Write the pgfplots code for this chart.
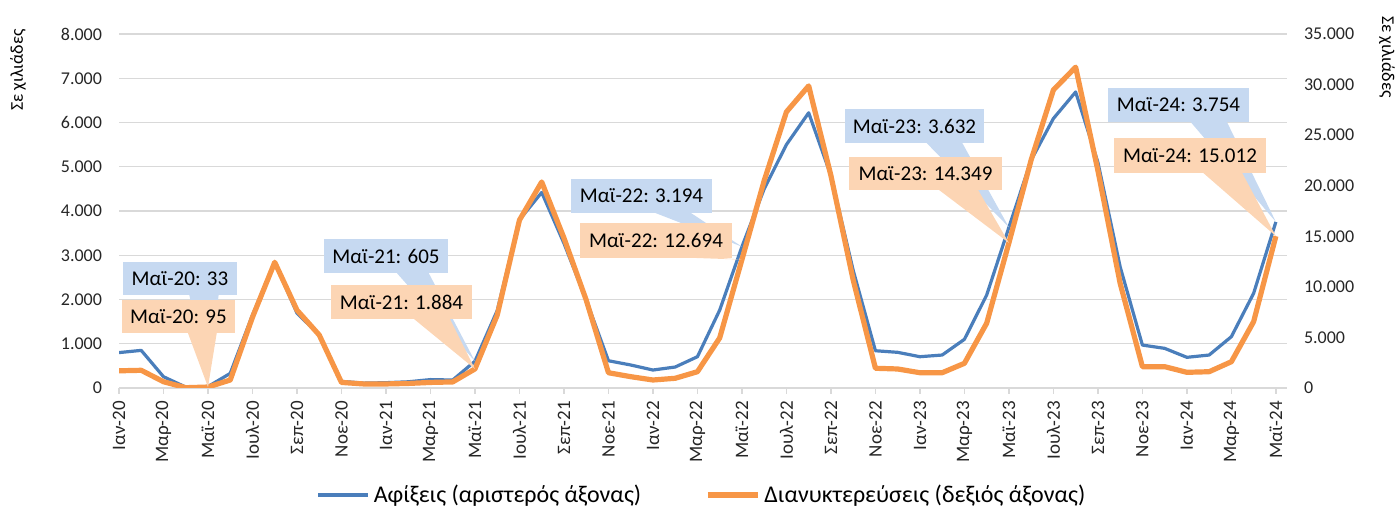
\documentclass[border=0pt]{standalone}
\usepackage{pgfplots}
\usepackage{pgfplotstable}
\pgfplotsset{compat=1.18}
\usepackage{fontspec}
\setmainfont{Carlito}
\definecolor{bl}{HTML}{4A7EBB}
\definecolor{orl}{HTML}{F79646}
\definecolor{blf}{HTML}{C6D9F1}
\definecolor{orf}{HTML}{FCD5B4}
\definecolor{gridc}{HTML}{D9D9D9}

\pgfplotstableread{
x arr ovn
0 800 1700
1 850 1750
2 255 620
3 20 30
4 33 95
5 330 790
6 1650 7000
7 2840 12430
8 1690 7700
9 1200 5240
10 150 550
11 110 400
12 120 400
13 140 450
14 190 550
15 180 600
16 605 1884
17 1750 7200
18 3800 16600
19 4420 20370
20 3270 14830
21 1990 8700
22 616 1510
23 520 1120
24 406 790
25 474 960
26 707 1610
27 1760 4950
28 3194 12694
29 4500 20500
30 5500 27300
31 6220 29870
32 4800 21000
33 2660 10680
34 842 1950
35 806 1880
36 707 1510
37 745 1510
38 1100 2440
39 2100 6400
40 3632 14349
41 5150 22550
42 6090 29470
43 6690 31720
44 5100 21500
45 2740 10350
46 970 2110
47 896 2110
48 693 1550
49 745 1610
50 1160 2600
51 2140 6560
52 3754 15012
}\datatable

\newcommand{\callout}[7]{%
  \fill[#5] ({#1+0.58*(#3-#1)},{#4-1}) -- ({#1+0.84*(#3-#1)},{#4-1}) -- (#6) -- cycle;
  \fill[#5] (#1,#2) rectangle (#3,#4);
  \node[font=\fontsize{10.5}{12}\selectfont, inner sep=0pt, text=black] at ({(#1+#3)/2},{(#2+#4)/2}) {#7};
}

\begin{document}
\begin{tikzpicture}
\useasboundingbox (-59.5pt,-60pt) rectangle (640pt,194pt);
\begin{axis}[name=ax,
  scale only axis, width=584pt, height=177pt,
  at={(0,0)}, anchor=south west,
  xmin=0, xmax=52.5, ymin=0, ymax=8000,
  axis x line*=bottom, axis y line*=left,
  x axis line style={-, draw=gridc, line width=0.8pt},
  y axis line style={draw=none},
  ytick={0,1000,...,8000},
  ymajorgrids, grid style={gridc, line width=0.7pt},
  ytick style={draw=none},
  xtick={0,2,...,52},
  xtick align=outside, major tick length=3pt,
  xtick style={gridc, line width=0.8pt},
  xticklabels={Ιαν-20, Μαρ-20, Μαϊ-20, Ιουλ-20, Σεπ-20, Νοε-20, Ιαν-21, Μαρ-21, Μαϊ-21, Ιουλ-21, Σεπ-21, Νοε-21, Ιαν-22, Μαρ-22, Μαϊ-22, Ιουλ-22, Σεπ-22, Νοε-22, Ιαν-23, Μαρ-23, Μαϊ-23, Ιουλ-23, Σεπ-23, Νοε-23, Ιαν-24, Μαρ-24, Μαϊ-24},
  xticklabel style={rotate=90, anchor=east, font=\fontsize{9.5}{10}\selectfont, text=black!85},
  yticklabel style={font=\fontsize{9}{10}\selectfont, text=black!85, xshift=-5pt},
  /pgf/number format/1000 sep={.},
  /pgf/number format/assume math mode=true,
  scaled y ticks=false,
]
\addplot[bl, line width=1.6pt, line join=round] table[x=x, y=arr] {\datatable};
\coordinate (b4) at (axis cs:4,33);
\coordinate (b16) at (axis cs:16,605);
\coordinate (b28) at (axis cs:28,3194);
\coordinate (b40) at (axis cs:40,3632);
\coordinate (b52) at (axis cs:52,3754);
\end{axis}
\begin{axis}[
  scale only axis, width=584pt, height=177pt,
  at={(0,0)}, anchor=south west,
  xmin=0, xmax=52.5, ymin=0, ymax=35000,
  axis x line=none, axis y line*=right,
  y axis line style={draw=none},
  ytick={0,5000,...,35000},
  ytick style={draw=none},
  yticklabel style={font=\fontsize{9}{10}\selectfont, text=black!85, xshift=5pt},
  /pgf/number format/1000 sep={.},
  /pgf/number format/assume math mode=true,
  scaled y ticks=false,
  legend style={at={(0.5,-0.302)}, anchor=center, draw=none, fill=none,
    legend columns=2, font=\fontsize{12}{14}\selectfont,
    /tikz/every even column/.append style={column sep=30pt}},
  legend image code/.code={\draw[#1] (0pt,0pt) -- (25pt,0pt);},
]
\addlegendimage{bl, line width=1.6pt}
\addlegendentry{Αφίξεις (αριστερός άξονας)}
\addplot[orl, line width=2.6pt, line join=round] table[x=x, y=ovn] {\datatable};
\addlegendentry{Διανυκτερεύσεις (δεξιός άξονας)}
\coordinate (o4) at (axis cs:4,95);
\coordinate (o16) at (axis cs:16,1884);
\coordinate (o28) at (axis cs:28,12694);
\coordinate (o40) at (axis cs:40,14349);
\coordinate (o52) at (axis cs:52,15012);
\end{axis}
\begin{scope}[x=0.5pt, y=-0.5pt, xshift=-59.5pt, yshift=194pt]
\node[rotate=90, font=\fontsize{9}{10}\selectfont] at (18,70) {Σε χιλιάδες};
\node[rotate=-90, font=\fontsize{9}{10}\selectfont] at (1387,57) {Σε χιλιάδες};
\callout{123}{262}{237}{295}{blf}{b4}{Μαϊ-20: 33}
\callout{122}{300}{235}{333}{orf}{o4}{Μαϊ-20: 95}
\callout{324}{239}{448}{273}{blf}{b16}{Μαϊ-21: 605}
\callout{331}{285}{472}{319}{orf}{o16}{Μαϊ-21: 1.884}
\callout{571}{179}{712}{213}{blf}{b28}{Μαϊ-22: 3.194}
\callout{580}{223}{732}{258}{orf}{o28}{Μαϊ-22: 12.694}
\callout{845}{109}{984}{143}{blf}{b40}{Μαϊ-23: 3.632}
\callout{849}{157}{1002}{190}{orf}{o40}{Μαϊ-23: 14.349}
\callout{1108}{88}{1249}{122}{blf}{b52}{Μαϊ-24: 3.754}
\callout{1114}{138}{1266}{173}{orf}{o52}{Μαϊ-24: 15.012}
\end{scope}
\end{tikzpicture}
\end{document}
